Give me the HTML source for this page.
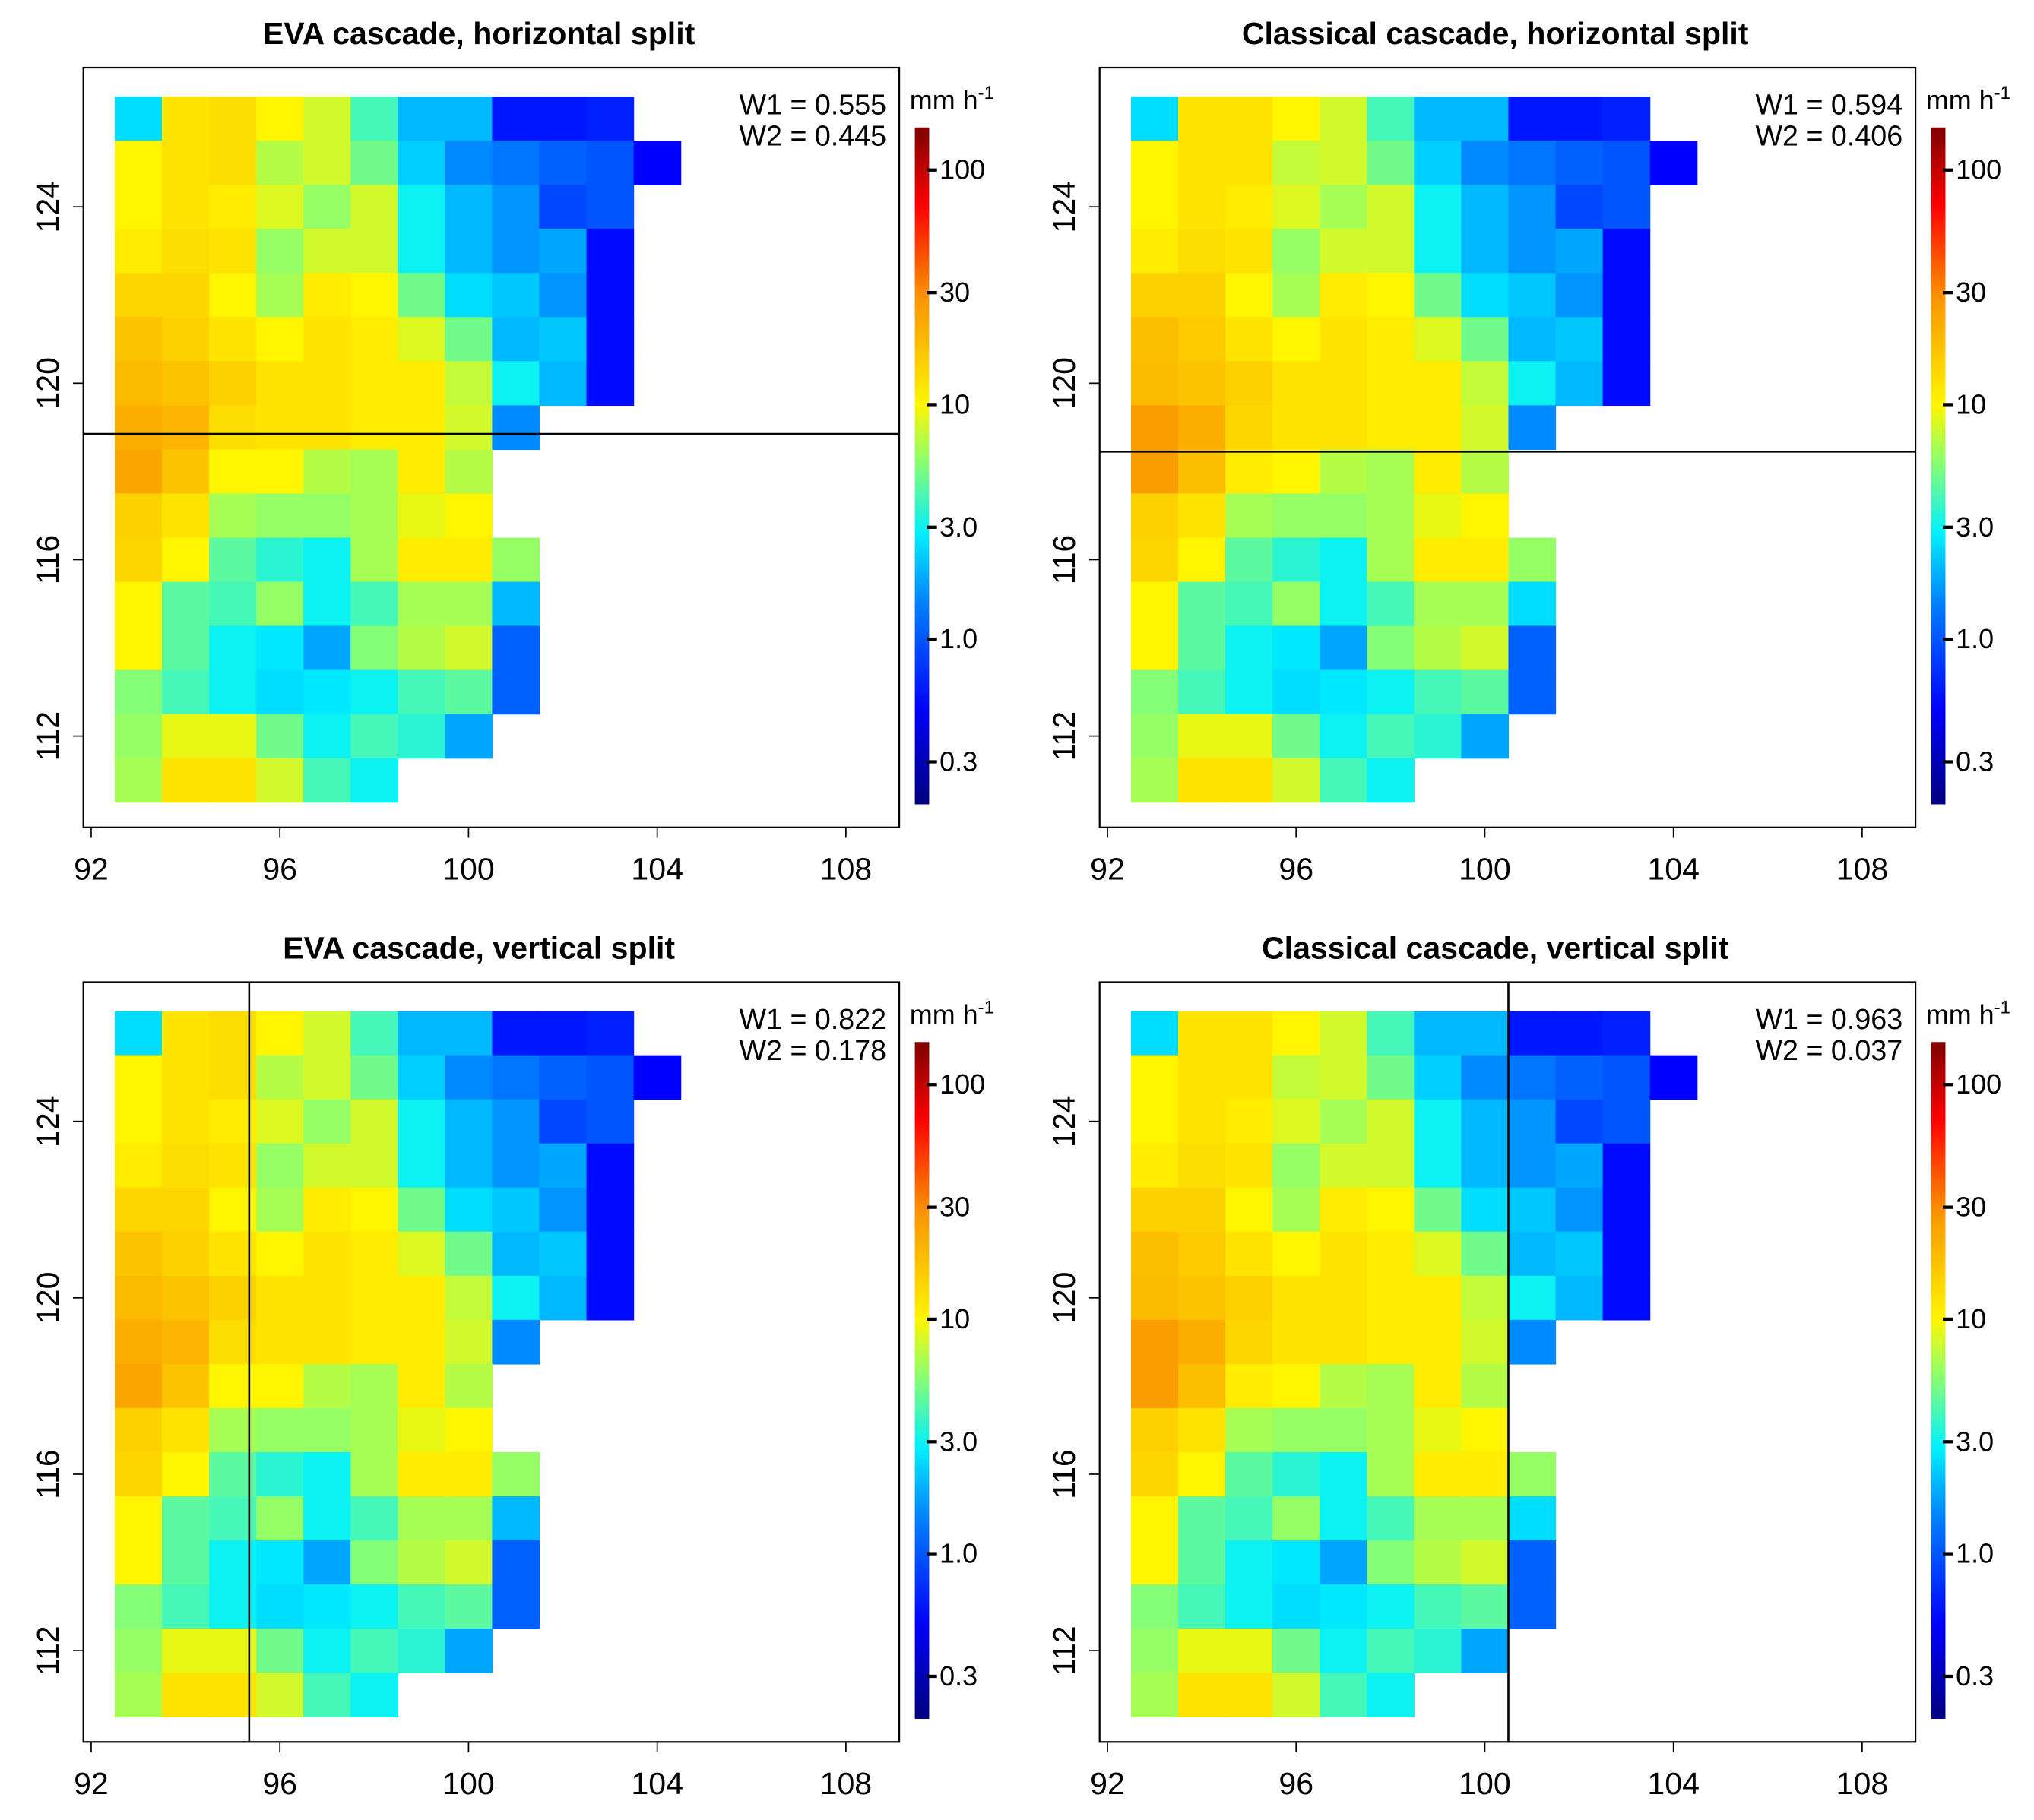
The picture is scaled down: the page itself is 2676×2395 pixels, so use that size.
<!DOCTYPE html>
<html><head><meta charset="utf-8"><style>
html,body{margin:0;padding:0;background:#fff}
svg{display:block;font-family:"Liberation Sans",sans-serif}
</style></head><body>
<svg id="chart" width="2676" height="2395" viewBox="0 0 1563 1399" xmlns="http://www.w3.org/2000/svg"></svg>
<script>
// Grid: longitudes 93..104, latitudes 126..111 (top to bottom). null = missing
const lons = [93,94,95,96,97,98,99,100,101,102,103,104];
const lats = [126,125,124,123,122,121,120,119,118,117,116,115,114,113,112,111];
const evaValues = [
[2.5,12,13,10,8,4,2,2,0.6,0.6,0.65,null],
[10,12,13,7,8,5,2.3,1.5,1.3,1.1,1.0,0.5],
[10,12,11,8.5,6,8,3,2,1.6,0.9,1.0,null],
[11,13,12,6,8,8,3,2,1.6,1.8,0.55,null],
[14,14,10,6.5,11,10,5,2.5,2.2,1.6,0.55,null],
[17,15,12,10,12,11,8.5,5,2,2.2,0.55,null],
[19,17,15,12,12,11,11,7.5,3,2,0.55,null],
[22,20,13,12,12,11,11,8,1.5,null,null,null],
[24,17,10,10,7,6.5,11,7,null,null,null,null],
[15,12,6.5,6,6,6.5,9,10,null,null,null,null],
[14,10,4.5,3.5,3,6.5,11,11,6,null,null,null],
[10,4.5,4,6,3,4,6.5,6.5,2,null,null,null],
[10,4.5,3,2.7,1.8,5.5,7,8,1.1,null,null,null],
[5.5,4,3,2.5,2.7,3,4,4.5,1.1,null,null,null],
[6,9,9,5,3,4,3.5,1.8,null,null,null,null],
[6.5,12,12,8,4,3,null,null,null,null,null,null]];
const classicalValues = [
[2.5,12,12,10,8,4,2,2,0.6,0.6,0.65,null],
[10,12,12,7.5,8,5,2.3,1.5,1.3,1.1,1.0,0.5],
[10,12,11,8.5,6.5,8,3,2,1.6,0.9,1.0,null],
[11,13,12,6,8,8,3,2,1.6,1.8,0.55,null],
[15,15,10,6.5,11,10,5,2.5,2.2,1.6,0.55,null],
[18,16,12,10,12,11,8.5,5,2,2.2,0.55,null],
[19,17,15,12,12,11,11,7.5,3,2,0.55,null],
[26,22,14,12,12,11,11,8,1.5,null,null,null],
[26,18,11,10,7,6.5,11,7,null,null,null,null],
[15,12,6.5,6,6,6.5,9,10,null,null,null,null],
[14,10,4.5,3.5,3,6.5,11,11,6,null,null,null],
[10,4.5,4,6,3,4,6.5,6.5,2.5,null,null,null],
[10,4.5,3,2.7,1.8,5.5,7,8,1.1,null,null,null],
[5.5,4,3,2.5,2.7,3,4,4.5,1.1,null,null,null],
[6,9,9,5,3,4,3.5,1.8,null,null,null,null],
[6.5,12,12,8,4,3,null,null,null,null,null,null]];
const xTicks = [92,96,100,104,108];
const yTicks = [112,116,120,124];
const cbTicks = [0.3,1.0,3.0,10,30,100];
const cbTickLabels = ["0.3","1.0","3.0","10","30","100"];
const titles = ["EVA cascade, horizontal split","Classical cascade, horizontal split","EVA cascade, vertical split","Classical cascade, vertical split"];
const w1 = ["0.555","0.594","0.822","0.963"];
const w2 = ["0.445","0.406","0.178","0.037"];
const splitType = ["h","h","v","v"];
const splitPos = [118.85,118.45,95.35,100.5];

const NS="http://www.w3.org/2000/svg";
const svg=document.getElementById('chart');
function mk(tag,attrs,parent){const e=document.createElementNS(NS,tag);for(const k in attrs)e.setAttribute(k,attrs[k]);(parent||svg).appendChild(e);return e;}
const stops=[[-0.7,[0,0,128]],[-0.3,[0,0,255]],[0.15,[0,128,255]],[0.45,[0,240,255]],[0.78,[150,255,100]],[1.0,[255,245,0]],[1.45,[250,150,0]],[1.85,[255,0,0]],[2.18,[128,0,0]]];
function color(v){const l=Math.log10(v);if(l<=stops[0][0])return 'rgb('+stops[0][1]+')';
for(let i=1;i<stops.length;i++){if(l<=stops[i][0]){const a=stops[i-1],b=stops[i];const t=(l-a[0])/(b[0]-a[0]);const c=a[1].map((x,j)=>Math.round(x+(b[1][j]-x)*t));return 'rgb('+c+')';}}
return 'rgb('+stops[stops.length-1][1]+')';}

const offsets=[[0,0],[781,0],[0,703],[781,703]];
offsets.forEach((o,p)=>{
  const data=(p%2===0)?evaValues:classicalValues;
  const g=mk('g',{transform:`translate(${o[0]},${o[1]})`});
  
  
  const X=lon=>70+(lon-92)*36.25;
  const Y=lat=>159-(lat-124)*33.9;
  const t=mk('text',{x:368,y:34,'text-anchor':'middle','font-size':24,'font-weight':'bold'},g);t.textContent=titles[p];
  
  const cells=mk('g',{},g);
  
  lats.forEach((lat,i)=>lons.forEach((lon,j)=>{const v=data[i][j];if(v==null)return;
    const r=mk('rect',{x:X(lon-0.5),y:Y(lat+0.5),width:36.6,height:34.3,fill:color(v)},cells);
    }));
  const box=mk('rect',{x:64,y:52,width:627,height:584,fill:'none',stroke:'#000','stroke-width':1.3},g);
  
  let ln;
  if(splitType[p]==='h'){const y=Y(splitPos[p]);ln=mk('line',{x1:64,x2:691,y1:y,y2:y,stroke:'#000','stroke-width':1.5},g);}
  else{const x=X(splitPos[p]);ln=mk('line',{x1:x,x2:x,y1:52,y2:636,stroke:'#000','stroke-width':1.5},g);}
  
  xTicks.forEach(v=>{mk('line',{x1:X(v),x2:X(v),y1:636,y2:644,stroke:'#000'},g);
    const tx=mk('text',{x:X(v),y:676,'text-anchor':'middle','font-size':24},g);tx.textContent=v;
    });
  yTicks.forEach(v=>{mk('line',{x1:56,x2:64,y1:Y(v),y2:Y(v),stroke:'#000'},g);
    const ty=mk('text',{x:0,y:0,'text-anchor':'middle','font-size':24,transform:`translate(45,${Y(v)}) rotate(-90)`},g);ty.textContent=v;
    });
  const a=mk('text',{x:568,y:88,'font-size':22},g);a.textContent='W1 = '+w1[p];
  
  const b=mk('text',{x:568,y:112,'font-size':22},g);b.textContent='W2 = '+w2[p];
  
  const cb=mk('g',{},g);
  const CY=v=>311-(Math.log10(v)-1)*180.3;
  for(let y=98;y<617;y+=2){const lv=1-(y+1-311)/180.3;mk('rect',{x:703,y:y,width:11,height:2.3,fill:color(Math.pow(10,lv))},cb);}
  cbTicks.forEach((v,i)=>{mk('line',{x1:712,x2:720,y1:CY(v),y2:CY(v),stroke:'#000','stroke-width':2.5},cb);
    const tl=mk('text',{x:722,y:CY(v)+7,'font-size':21},cb);tl.textContent=cbTickLabels[i];
    });
  const u=mk('text',{x:699,y:84,'font-size':21},g);u.innerHTML='mm h<tspan dy="-8" font-size="14">-1</tspan>';
  
});
</script>
</body></html>
